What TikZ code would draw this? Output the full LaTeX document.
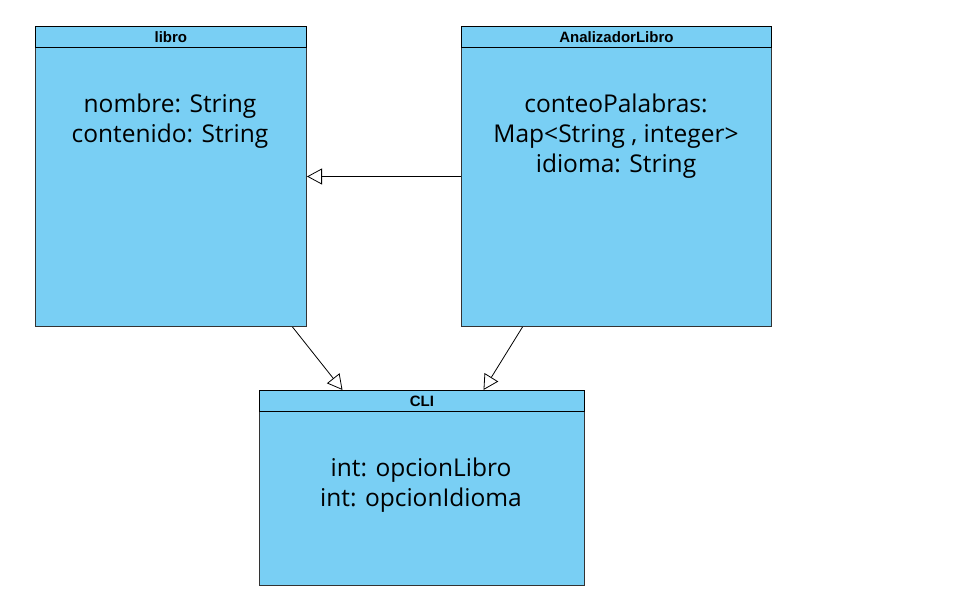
\documentclass[tikz,border=0pt]{standalone}
\usepackage{fontspec}
\setmainfont{Open Sans}
\newfontfamily\headfont{Liberation Sans}
\usetikzlibrary{arrows.meta,positioning}
\definecolor{classfill}{RGB}{121,207,244}
\definecolor{classline}{RGB}{51,51,51}
\tikzset{
  classbody/.style={draw=classline, fill=classfill, line width=1pt, anchor=north west, inner sep=0pt},
  classhead/.style={draw=black, line width=0.8pt, anchor=north west, inner sep=0pt, minimum height=21pt,
    font=\headfont\bfseries\fontsize{15}{17}\selectfont},
  attrs/.style={align=center, font=\fontsize{24.5}{30}\selectfont, inner sep=0pt},
  inherit/.style={-{Triangle[open, length=15pt, width=16pt]}, line width=0.8pt}
}
\begin{document}
\begin{tikzpicture}[x=1pt, y=-1pt]
    \useasboundingbox (0,0) rectangle (972,607);

    % Class libro
    \node[classbody, minimum width=271pt, minimum height=300pt] (libro) at (35,26) {};
    \node[classhead, minimum width=271pt] (libro-head) at (35,26) {libro};
    \node[attrs] (libro-attrs) at (170,121) {nombre: String\\contenido: String};

    % Class AnalizadorLibro
    \node[classbody, minimum width=310pt, minimum height=300pt] (analizador) at (461,26) {};
    \node[classhead, minimum width=310pt] (analizador-head) at (461,26) {AnalizadorLibro};
    \node[attrs] (analizador-attrs) at (616,136) {conteoPalabras:\\Map<String , integer>\\idioma: String};

    % Class CLI
    \node[classbody, minimum width=325pt, minimum height=195pt] (cli) at (259,390) {};
    \node[classhead, minimum width=325pt] (cli-head) at (259,390) {CLI};
    \node[attrs] (cli-attrs) at (421,485) {int: opcionLibro\\int: opcionIdioma};

    % Inheritance
    \draw[inherit] (analizador.west) -- (libro.east);
    \draw[inherit] ([xshift=121.5pt]libro.south) -- ([xshift=-79.5pt]cli.north);
    \draw[inherit] ([xshift=-94pt]analizador.south) -- ([xshift=61.5pt]cli.north);
\end{tikzpicture}
\end{document}
